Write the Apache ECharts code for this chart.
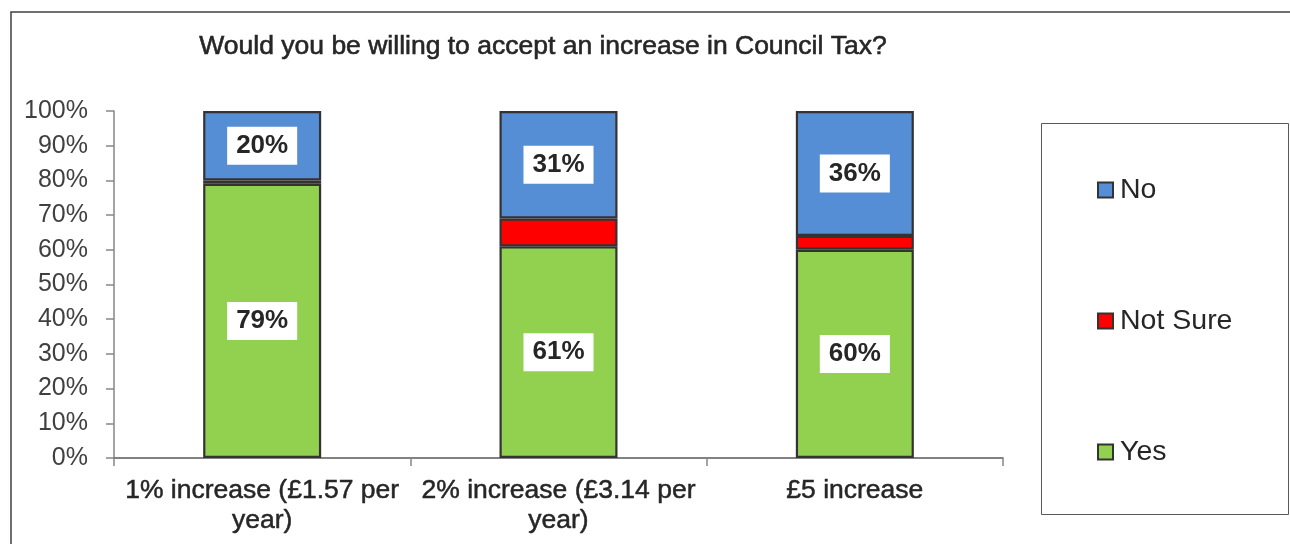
<!DOCTYPE html>
<html>
<head>
<meta charset="utf-8">
<script src="https://cdn.jsdelivr.net/npm/echarts@6/dist/echarts.min.js"></script>
<style>
  html, body { margin: 0; padding: 0; background: #fff; }
  #chart { width: 1290px; height: 544px; }
</style>
</head>
<body>
<div id="chart"></div>
<script>
// Survey: willingness to accept a Council Tax increase (percent of respondents)
const categories = [
  '1% increase (£1.57 per\nyear)',
  '2% increase (£3.14 per\nyear)',
  '£5 increase'
];
const yesValues = [79, 61, 60];
const notSureValues = [1, 8, 4];
const noValues = [20, 31, 36];
const legendOrder = ['No', 'Not Sure', 'Yes'];

const FONT = '"Liberation Sans", Arial, Helvetica, sans-serif';
const barBorder = { borderColor: '#333333', borderWidth: 2.2 };
const valueLabel = {
  show: true,
  position: 'inside',
  formatter: '{c}%',
  fontFamily: FONT,
  fontSize: 26,
  fontWeight: 'bold',
  color: '#262626',
  backgroundColor: '#ffffff',
  padding: [7, 9, 5, 9]
};

const chart = echarts.init(document.getElementById('chart'), null, { renderer: 'canvas' });

chart.setOption({
  animation: false,
  backgroundColor: '#ffffff',
  title: {
    text: 'Would you be willing to accept an increase in Council Tax?',
    left: 538,
    textAlign: 'center',
    top: 28,
    textStyle: {
      fontFamily: FONT, fontSize: 26.5, fontWeight: 'normal', color: '#262626',
      textBorderColor: '#262626', textBorderWidth: 0.6
    }
  },
  graphic: [
    {
      type: 'rect',
      shape: { x: 11, y: 12, width: 1400, height: 700 },
      style: { fill: 'none', stroke: '#404040', lineWidth: 1.5 },
      silent: true
    },
    {
      type: 'rect',
      shape: { x: 1041.5, y: 123.5, width: 247, height: 391 },
      style: { fill: '#ffffff', stroke: '#595959', lineWidth: 1 },
      silent: true,
      z: -1
    }
  ],
  legend: {
    data: legendOrder,
    orient: 'vertical',
    left: 1097,
    top: 175,
    itemWidth: 15,
    itemHeight: 15,
    itemGap: 101,
    icon: 'rect',
    padding: 0,
    textStyle: { fontFamily: FONT, fontSize: 28.5, color: '#262626', padding: [0, 0, 0, 2], lineHeight: 30 }
  },
  grid: { left: 114, right: 287, top: 111, bottom: 86, containLabel: false },
  xAxis: {
    type: 'category',
    data: categories,
    axisLine: { lineStyle: { color: '#595959', width: 1.5 } },
    axisTick: { show: true, alignWithLabel: false, length: 8, lineStyle: { color: '#868686', width: 1.5 } },
    axisLabel: {
      fontFamily: FONT,
      fontSize: 26.5,
      lineHeight: 30,
      color: '#262626',
      textBorderColor: '#262626',
      textBorderWidth: 0.5,
      margin: 18,
      interval: 0
    }
  },
  yAxis: {
    type: 'value',
    min: 0,
    max: 100,
    interval: 10,
    axisLine: { show: true, lineStyle: { color: '#868686', width: 1.5 } },
    axisTick: { show: true, length: 8, lineStyle: { color: '#868686', width: 1.5 } },
    splitLine: { show: false },
    axisLabel: {
      formatter: '{value}%',
      fontFamily: FONT,
      fontSize: 25,
      color: '#404040',
      margin: 26
    }
  },
  series: [
    {
      name: 'Yes',
      type: 'bar',
      stack: 'total',
      barWidth: 118,
      data: yesValues,
      itemStyle: Object.assign({ color: '#92D050' }, barBorder),
      label: valueLabel
    },
    {
      name: 'Not Sure',
      type: 'bar',
      stack: 'total',
      barWidth: 118,
      data: notSureValues,
      itemStyle: Object.assign({ color: '#FF0000' }, barBorder),
      label: { show: false }
    },
    {
      name: 'No',
      type: 'bar',
      stack: 'total',
      barWidth: 118,
      data: noValues,
      itemStyle: Object.assign({ color: '#558ED5' }, barBorder),
      label: valueLabel
    }
  ]
});
</script>
</body>
</html>
